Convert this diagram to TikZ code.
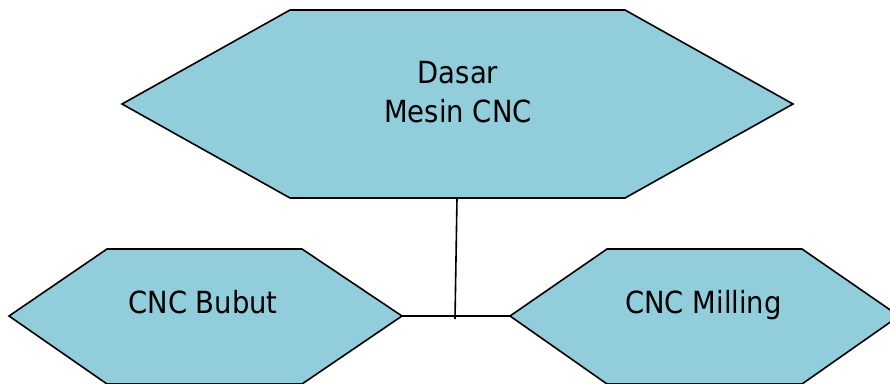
\documentclass[tikz,border=0pt]{standalone}
\usepackage{fontspec}
\setmainfont{DejaVu Sans Condensed}
\definecolor{hexblue}{RGB}{146,205,220}
\begin{document}
\begin{tikzpicture}[x=1pt,y=-1pt,
  hexa/.style={fill=hexblue,draw=black,line width=1.6pt,line join=miter},
  lbl/.style={font=\fontsize{30.5}{39}\selectfont,align=center,text=black,inner sep=0pt},
  conn/.style={draw=black,line width=1.6pt}]
\useasboundingbox (0,0) rectangle (890,383);
% top hexagon
\coordinate (t1) at (290,10);
\coordinate (t2) at (625,10);
\coordinate (t3) at (793,104);
\coordinate (t4) at (625,198);
\coordinate (t5) at (290,198);
\coordinate (t6) at (122,104);
\path[hexa] (t1)--(t2)--(t3)--(t4)--(t5)--(t6)--cycle;
% left hexagon
\coordinate (l1) at (107,249);
\coordinate (l2) at (302,249);
\coordinate (l3) at (402,316);
\coordinate (l4) at (302,384);
\coordinate (l5) at (107,384);
\coordinate (l6) at (9,316);
\path[hexa] (l1)--(l2)--(l3)--(l4)--(l5)--(l6)--cycle;
% right hexagon
\coordinate (r1) at (607,249);
\coordinate (r2) at (802,249);
\coordinate (r3) at (899,316);
\coordinate (r4) at (802,384);
\coordinate (r5) at (607,384);
\coordinate (r6) at (510,316);
\path[hexa] (r1)--(r2)--(r3)--(r4)--(r5)--(r6)--cycle;
% labels
\node[lbl] (top) at (458,92) {Dasar\\Mesin CNC};
\node[lbl,anchor=base] (left) at (203,313) {CNC Bubut};
\node[lbl,anchor=base] (right) at (703.5,313) {CNC Milling};
% connectors
\coordinate (vtop) at (457,198);
\coordinate (vbot) at (455,319);
\draw[conn] (vtop) -- (vbot);
\draw[conn] (l3) -- (r6);
\end{tikzpicture}
\end{document}
